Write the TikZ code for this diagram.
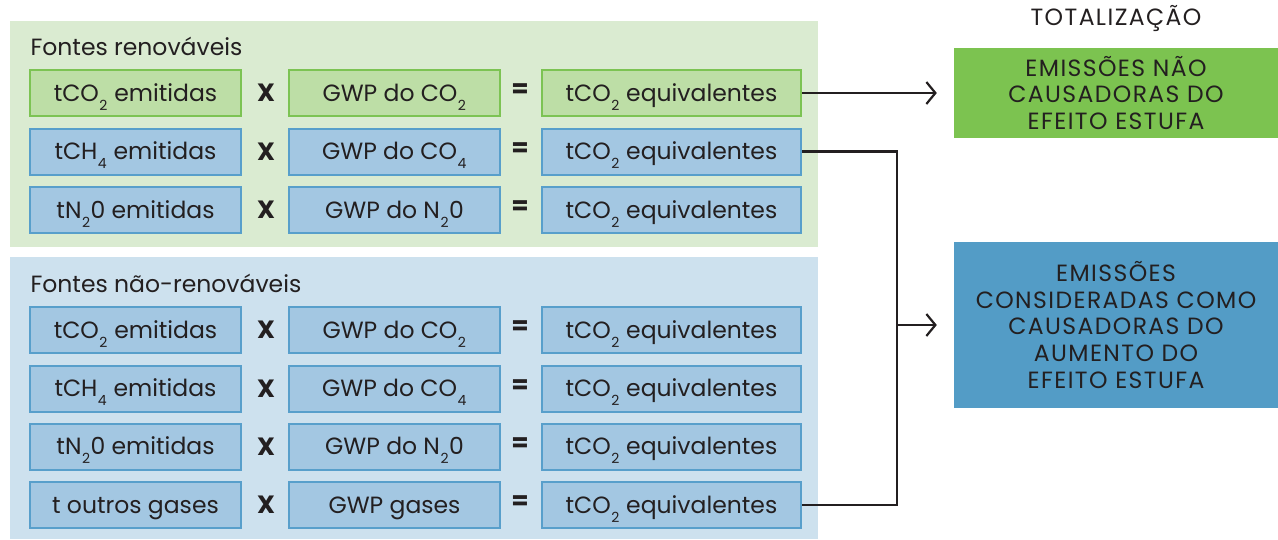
\documentclass[tikz,border=0pt]{standalone}
\usepackage{fontspec}
\setmainfont{Poppins}
\usetikzlibrary{arrows.meta}
\definecolor{txt}{HTML}{231F20}
\definecolor{gpanel}{HTML}{DAEBD1}
\definecolor{bpanel}{HTML}{CDE1EE}
\definecolor{gfill}{HTML}{BDDEA6}
\definecolor{gline}{HTML}{7CC353}
\definecolor{bfill}{HTML}{A3C7E2}
\definecolor{bline}{HTML}{589FCB}
\definecolor{gtot}{HTML}{7CC350}
\definecolor{btot}{HTML}{539CC6}
\newcommand{\sub}[1]{\kern0.5pt\raisebox{-0.7ex}{\fontsize{14}{14}\selectfont #1}\kern0.5pt\relax}
\begin{document}
\begin{tikzpicture}[x=1pt,y=-1pt,
  every node/.style={text=txt,font=\fontsize{23.5}{28}\selectfont},
  cell/.style={draw,line width=2pt,minimum height=46pt,inner sep=0pt,anchor=center,text height=16.5pt,text depth=0pt},
  gcell/.style={cell,fill=gfill,draw=gline},
  bcell/.style={cell,fill=bfill,draw=bline},
  wa/.style={minimum width=211pt},
  wc/.style={minimum width=259pt},
  op/.style={font=\fontsize{25}{28}\selectfont\bfseries},
  title/.style={anchor=west,font=\fontsize{23.5}{28}\selectfont},
  tot/.style={minimum width=324pt,inner sep=0pt,align=center,font=\fontsize{23.5}{26.7}\selectfont\addfontfeature{LetterSpace=6}},
  conn/.style={draw=txt,line width=2.4pt},
  arr/.style={conn,-{Straight Barb[length=9pt,width=22pt,line width=2.2pt]}}
]
\useasboundingbox (0,0) rectangle (1278,539);
% panels
\fill[gpanel] (10,21) rectangle (818,247);
\fill[bpanel] (10,257) rectangle (818,539);
\node[title] (tg) at (27,46) {Fontes renováveis};
\node[title] (tb) at (27,283) {Fontes não-renováveis};
% renewable rows
\node[gcell,wa] (g1a) at (135.5,93) {tCO\sub{2} emitidas};
\node[op] (g1x) at (266,93) {X};
\node[gcell,wa] (g1b) at (394.5,93) {GWP do CO\sub{2}};
\node[op] (g1e) at (520,91) {=};
\node[gcell,wc] (g1c) at (671.5,93) {tCO\sub{2} equivalentes};

\node[bcell,wa] (g2a) at (135.5,151.5) {tCH\sub{4} emitidas};
\node[op] (g2x) at (266,151.5) {X};
\node[bcell,wa] (g2b) at (394.5,151.5) {GWP do CO\sub{4}};
\node[op] (g2e) at (520,149.5) {=};
\node[bcell,wc] (g2c) at (671.5,151.5) {tCO\sub{2} equivalentes};

\node[bcell,wa] (g3a) at (135.5,210) {tN\sub{2}0 emitidas};
\node[op] (g3x) at (266,210) {X};
\node[bcell,wa] (g3b) at (394.5,210) {GWP do N\sub{2}0};
\node[op] (g3e) at (520,208) {=};
\node[bcell,wc] (g3c) at (671.5,210) {tCO\sub{2} equivalentes};
% non-renewable rows
\node[bcell,wa] (b1a) at (135.5,330) {tCO\sub{2} emitidas};
\node[op] (b1x) at (266,330) {X};
\node[bcell,wa] (b1b) at (394.5,330) {GWP do CO\sub{2}};
\node[op] (b1e) at (520,328) {=};
\node[bcell,wc] (b1c) at (671.5,330) {tCO\sub{2} equivalentes};

\node[bcell,wa] (b2a) at (135.5,388.5) {tCH\sub{4} emitidas};
\node[op] (b2x) at (266,388.5) {X};
\node[bcell,wa] (b2b) at (394.5,388.5) {GWP do CO\sub{4}};
\node[op] (b2e) at (520,386.5) {=};
\node[bcell,wc] (b2c) at (671.5,388.5) {tCO\sub{2} equivalentes};

\node[bcell,wa] (b3a) at (135.5,446.5) {tN\sub{2}0 emitidas};
\node[op] (b3x) at (266,446.5) {X};
\node[bcell,wa] (b3b) at (394.5,446.5) {GWP do N\sub{2}0};
\node[op] (b3e) at (520,444.5) {=};
\node[bcell,wc] (b3c) at (671.5,446.5) {tCO\sub{2} equivalentes};

\node[bcell,wa] (b4a) at (135.5,505) {t outros gases};
\node[op] (b4x) at (266,505) {X};
\node[bcell,wa] (b4b) at (394.5,505) {GWP gases};
\node[op] (b4e) at (520,503) {=};
\node[bcell,wc] (b4c) at (671.5,505) {tCO\sub{2} equivalentes};
% totals
\node[font=\fontsize{23.5}{28}\selectfont\addfontfeature{LetterSpace=6}] (ttl) at (1116,18) {TOTALIZAÇÃO};
\node[tot,fill=gtot,minimum height=90pt] (totg) at (1116,93) {EMISSÕES NÃO\\CAUSADORAS DO\\EFEITO ESTUFA};
\node[tot,fill=btot,minimum height=166pt] (totb) at (1116,325) {EMISSÕES\\CONSIDERADAS COMO\\CAUSADORAS DO\\AUMENTO DO\\EFEITO ESTUFA};
% connectors
\coordinate (j) at (897,325);
\draw[arr,shorten >=17pt] (g1c.east) -- (g1c.east -| totg.west);
\draw[conn] (g2c.east) -| (j) |- (b4c.east);
\draw[arr,shorten >=17pt] (j) -- (j -| totb.west);
\end{tikzpicture}
\end{document}
